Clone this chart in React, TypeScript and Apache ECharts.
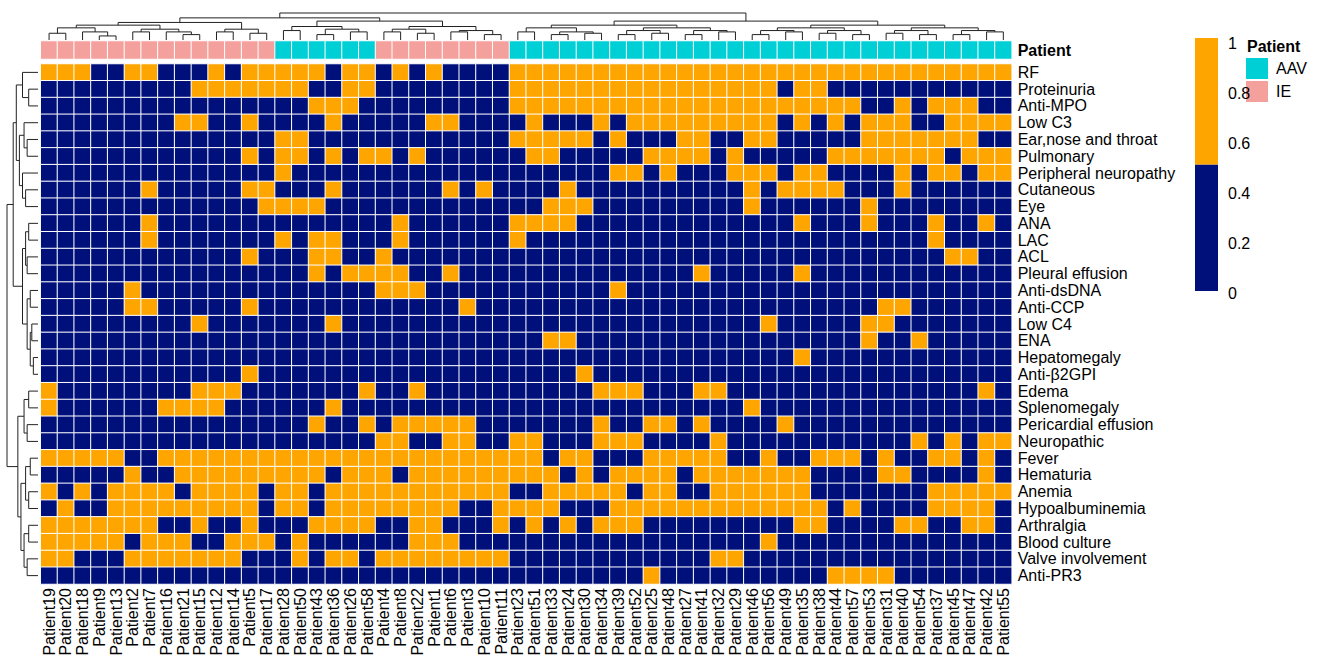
import React, { useEffect, useRef } from "react";
import * as echarts from "echarts";

const patients = [
  "Patient19","Patient20","Patient18","Patient9","Patient13","Patient2","Patient7","Patient16","Patient21","Patient15",
  "Patient12","Patient14","Patient5","Patient17","Patient28","Patient50","Patient43","Patient36","Patient26","Patient58",
  "Patient4","Patient8","Patient22","Patient1","Patient6","Patient3","Patient10","Patient11","Patient23","Patient51",
  "Patient33","Patient24","Patient30","Patient34","Patient39","Patient52","Patient25","Patient48","Patient27","Patient41",
  "Patient32","Patient29","Patient46","Patient56","Patient49","Patient35","Patient38","Patient44","Patient57","Patient53",
  "Patient31","Patient40","Patient54","Patient37","Patient45","Patient47","Patient42","Patient55",
];
const groupNames = ["AAV", "IE"];
const patientGroup = [
  "IE","IE","IE","IE","IE","IE","IE","IE","IE","IE","IE","IE","IE","IE",
  "AAV","AAV","AAV","AAV","AAV","AAV",
  "IE","IE","IE","IE","IE","IE","IE","IE",
  "AAV","AAV","AAV","AAV","AAV","AAV","AAV","AAV","AAV","AAV","AAV","AAV","AAV","AAV","AAV",
  "AAV","AAV","AAV","AAV","AAV","AAV","AAV","AAV","AAV","AAV","AAV","AAV","AAV","AAV","AAV",
];
const features = [
  "RF","Proteinuria","Anti-MPO","Low C3","Ear,nose and throat","Pulmonary","Peripheral neuropathy","Cutaneous",
  "Eye","ANA","LAC","ACL","Pleural effusion","Anti-dsDNA","Anti-CCP","Low C4","ENA","Hepatomegaly","Anti-β2GPI",
  "Edema","Splenomegaly","Pericardial effusion","Neuropathic","Fever","Hematuria","Anemia","Hypoalbuminemia",
  "Arthralgia","Blood culture","Valve involvement","Anti-PR3",
];

const rf = [1,1,1,0,0,1,1,0,0,0,1,0,1,1,1, 1,1,0,1,1,0,1,0,1,0,0,0,0,1,1, 1,1,1,1,1,1,1,1,1,1,1,1,1,1,1, 1,1,1,1,1,1,1,1,1,1,1,1,1];
const proteinuria = [0,0,0,0,0,0,0,0,0,1,1,1,1,1,1, 1,0,0,1,1,0,0,0,0,0,0,0,0,1,1, 1,1,1,1,1,1,1,1,1,1,1,1,1,1,0, 1,1,0,0,0,0,0,0,0,0,0,0,0];
const antiMPO = [0,0,0,0,0,0,0,0,0,0,0,0,0,0,0, 0,1,1,1,0,0,0,0,0,0,0,0,0,1,1, 1,1,1,1,1,1,1,1,1,1,1,1,1,1,1, 1,1,1,1,0,0,1,0,1,1,1,0,0];
const lowC3 = [0,0,0,0,0,0,0,0,1,1,0,0,1,0,0, 0,0,1,0,0,0,0,0,1,1,0,0,0,0,1, 0,0,0,1,0,1,1,1,1,1,1,1,1,1,0, 1,0,1,0,1,1,1,0,0,1,1,1,1];
const ent = [0,0,0,0,0,0,0,0,0,0,0,0,0,0,1, 1,0,0,0,0,0,0,0,0,0,0,0,0,1,1, 1,1,1,0,1,0,0,0,1,1,0,0,1,1,0, 0,0,0,0,1,1,1,1,1,1,1,0,0];
const pulmonary = [0,0,0,0,0,0,0,0,0,0,0,0,1,0,1, 1,0,1,0,1,1,0,1,0,0,0,0,0,0,1, 1,0,0,0,0,0,1,1,1,1,0,1,0,0,0, 0,0,1,1,1,1,1,1,1,0,1,1,1];
const peripheral = [0,0,0,0,0,0,0,0,0,0,0,0,0,0,1, 0,0,0,0,0,0,0,0,0,0,0,0,0,0,0, 0,0,0,0,1,1,0,1,0,0,0,1,1,1,0, 1,1,0,0,0,0,1,0,1,1,0,1,1];
const cutaneous = [0,0,0,0,0,0,1,0,0,0,0,0,1,1,0, 0,0,1,0,0,0,0,0,0,1,0,1,0,0,0, 0,1,0,0,0,0,0,0,0,0,0,0,1,0,1, 1,1,1,0,0,0,1,0,0,0,0,0,0];
const eye = [0,0,0,0,0,0,0,0,0,0,0,0,0,1,1, 1,1,0,0,0,0,0,0,0,0,0,0,0,0,0, 1,1,1,0,0,0,0,0,0,0,0,0,1,0,0, 0,0,0,0,1,0,0,0,0,0,0,0,0];
const ana = [0,0,0,0,0,0,1,0,0,0,0,0,0,0,0, 0,0,0,0,0,0,1,0,0,0,0,0,0,1,1, 1,1,0,0,0,0,0,0,0,0,0,0,0,0,0, 1,0,0,0,1,0,0,0,1,0,0,1,0];
const lac = [0,0,0,0,0,0,1,0,0,0,0,0,0,0,1, 0,1,1,0,0,0,1,0,0,0,0,0,0,1,0, 0,0,0,0,0,0,0,0,0,0,0,0,0,0,0, 0,0,0,0,0,0,0,0,1,0,0,0,0];
const acl = [0,0,0,0,0,0,0,0,0,0,0,0,1,0,0, 0,1,1,0,0,1,0,0,0,0,0,0,0,0,0, 0,0,0,0,0,0,0,0,0,0,0,0,0,0,0, 0,0,0,0,0,0,0,0,0,1,1,0,0];
const pleural = [0,0,0,0,0,0,0,0,0,0,0,0,0,0,0, 0,1,0,1,1,1,1,0,0,1,0,0,0,0,0, 0,0,0,0,0,0,0,0,0,1,0,0,0,0,0, 1,0,0,0,0,0,0,0,0,0,0,0,0];
const antiDsDNA = [0,0,0,0,0,1,0,0,0,0,0,0,0,0,0, 0,0,0,0,0,1,1,1,0,0,0,0,0,0,0, 0,0,0,0,1,0,0,0,0,0,0,0,0,0,0, 0,0,0,0,0,0,0,0,0,0,0,0,0];
const antiCCP = [0,0,0,0,0,1,1,0,0,0,0,0,1,0,0, 0,0,0,0,0,0,0,0,0,0,1,0,0,0,0, 0,0,0,0,0,0,0,0,0,0,0,0,0,0,0, 0,0,0,0,0,1,1,0,0,0,0,0,0];
const lowC4 = [0,0,0,0,0,0,0,0,0,1,0,0,0,0,0, 0,0,1,0,0,0,0,0,0,0,0,0,0,0,0, 0,0,0,0,0,0,0,0,0,0,0,0,0,1,0, 0,0,0,0,1,1,0,0,0,0,0,0,0];
const ena = [0,0,0,0,0,0,0,0,0,0,0,0,0,0,0, 0,0,0,0,0,0,0,0,0,0,0,0,0,0,0, 1,1,0,0,0,0,0,0,0,0,0,0,0,0,0, 0,0,0,0,1,0,0,1,0,0,0,0,0];
const hepatomegaly = [0,0,0,0,0,0,0,0,0,0,0,0,0,0,0, 0,0,0,0,0,0,0,0,0,0,0,0,0,0,0, 0,0,0,0,0,0,0,0,0,0,0,0,0,0,0, 1,0,0,0,0,0,0,0,0,0,0,0,0];
const antiB2GPI = [0,0,0,0,0,0,0,0,0,0,0,0,1,0,0, 0,0,0,0,0,0,0,0,0,0,0,0,0,0,0, 0,0,1,0,0,0,0,0,0,0,0,0,0,0,0, 0,0,0,0,0,0,0,0,0,0,0,0,0];
const edema = [1,0,0,0,0,0,0,0,0,1,1,1,0,0,0, 0,0,0,0,1,0,0,1,0,0,0,0,0,0,0, 0,0,0,1,1,1,0,0,0,1,1,0,0,0,0, 0,0,0,0,0,0,0,0,0,0,0,1,0];
const splenomegaly = [1,0,0,0,0,0,0,1,1,1,1,0,0,0,0, 0,0,1,0,0,0,0,0,0,0,0,0,0,0,0, 0,0,0,0,0,0,0,0,0,0,0,0,1,0,0, 0,0,0,0,0,0,0,0,0,0,0,0,0];
const pericardial = [0,0,0,0,0,0,0,0,0,0,0,0,0,0,0, 0,1,0,0,1,0,1,1,1,1,1,0,0,0,0, 0,0,0,1,0,0,1,1,0,1,0,0,0,0,1, 0,0,0,0,0,0,0,0,0,0,0,0,0];
const neuropathic = [0,0,0,0,0,0,0,0,0,0,0,0,0,0,0, 0,0,0,0,0,1,1,0,0,1,1,0,0,1,1, 0,0,0,1,1,1,0,0,0,0,1,0,0,0,0, 0,0,0,0,0,0,0,1,0,1,0,1,1];
const fever = [1,1,1,1,1,0,0,1,1,1,1,1,1,1,1, 1,1,1,1,1,1,1,1,1,1,1,1,1,1,1, 0,1,1,0,0,0,1,1,1,1,1,0,0,1,0, 0,1,1,1,0,1,0,0,1,1,0,1,0];
const hematuria = [0,0,0,0,0,1,0,0,1,1,1,1,1,1,1, 1,1,0,1,1,1,0,1,1,1,1,1,1,1,1, 1,0,1,0,1,1,1,1,0,1,1,1,1,1,1, 1,0,0,0,0,1,1,0,0,0,0,1,0];
const anemia = [1,0,1,0,1,1,1,1,0,1,1,1,1,0,1, 1,0,1,1,1,1,1,1,1,1,1,1,1,0,0, 1,1,1,1,1,0,1,1,0,0,1,1,1,1,1, 1,0,0,0,0,0,0,0,1,1,1,1,1];
const hypoalbuminemia = [0,1,0,0,1,1,1,1,1,1,1,1,1,0,1, 1,0,1,1,1,1,1,1,1,1,0,0,1,1,1, 1,0,0,0,1,1,1,1,1,1,1,1,1,1,1, 1,1,0,1,0,0,0,0,1,1,1,1,0];
const arthralgia = [1,1,1,1,1,1,1,0,0,1,0,0,1,0,0, 0,1,1,1,1,0,0,1,1,0,0,0,1,0,1, 0,1,0,1,1,1,0,0,0,0,0,0,0,0,0, 1,1,0,0,0,0,1,1,0,0,1,1,0];
const bloodCulture = [1,1,1,1,1,0,1,1,1,0,0,1,1,1,0, 1,0,0,0,0,0,0,1,1,1,0,0,0,0,0, 0,0,0,0,0,0,0,0,0,0,0,0,0,1,0, 0,0,0,0,0,0,0,0,0,0,0,0,0];
const valve = [1,1,0,0,0,1,1,1,1,1,1,1,0,0,0, 1,0,1,1,0,1,1,1,1,1,1,1,1,0,0, 0,0,0,0,0,0,0,0,0,0,1,1,0,0,0, 0,0,0,0,0,0,0,0,0,0,0,0,0];
const antiPR3 = [0,0,0,0,0,0,0,0,0,0,0,0,0,0,0, 0,0,0,0,0,0,0,0,0,0,0,0,0,0,0, 0,0,0,0,0,0,1,0,0,0,0,0,0,0,0, 0,0,1,1,1,1,0,0,0,0,0,0,0];

const matrix = [
  rf, proteinuria, antiMPO, lowC3, ent, pulmonary, peripheral, cutaneous, eye, ana, lac, acl, pleural,
  antiDsDNA, antiCCP, lowC4, ena, hepatomegaly, antiB2GPI, edema, splenomegaly, pericardial, neuropathic,
  fever, hematuria, anemia, hypoalbuminemia, arthralgia, bloodCulture, valve, antiPR3,
];

const legendTicks = [0, 0.2, 0.4, 0.6, 0.8, 1];

type Tree = number | [Tree, Tree, number];

// column dendrogram (leaf = column position), heights relative to the root
const colTree: Tree = [
  [
    [
      [[[0, 1, 0.25], [2, [3, 4, 0.15], 0.3], 0.45], [[5, 6, 0.3], [7, [8, 9, 0.2], 0.3], 0.4], 0.55],
      [[10, 11, 0.3], [12, 13, 0.25], 0.4],
      0.65,
    ],
    [
      [[14, 15, 0.35], [[16, 17, 0.2], [18, 19, 0.3], 0.4], 0.5],
      [[[20, 21, 0.3], [22, 23, 0.25], 0.4], [[24, 25, 0.3], [26, 27, 0.2], 0.35], 0.5],
      0.7,
    ],
    0.82,
  ],
  [
    [
      [[28, 29, 0.3], [[30, 31, 0.2], [32, 33, 0.25], 0.3], 0.45],
      [[[34, 35, 0.2], [36, 37, 0.25], 0.35], [[38, 39, 0.2], [40, 41, 0.3], 0.35], 0.45],
      0.55,
    ],
    [
      [[[42, 43, 0.2], [44, 45, 0.3], 0.35], [[46, 47, 0.25], [48, 49, 0.2], 0.35], 0.45],
      [[[50, 51, 0.25], [52, 53, 0.2], 0.35], [[54, 55, 0.2], [56, 57, 0.3], 0.35], 0.45],
      0.55,
    ],
    0.7,
  ],
  1,
];

const rowTree: Tree = [
  [
    [[0, [1, 2, 0.3], 0.5], [[3, [4, 5, 0.35], 0.45], [6, [7, 8, 0.4], 0.5], 0.6], 0.7],
    [[[9, 10, 0.3], [11, 12, 0.35], 0.4], [[13, 14, 0.25], [[15, 16, 0.2], [17, 18, 0.15], 0.25], 0.35], 0.5],
    0.8,
  ],
  [
    [[19, 20, 0.3], [21, 22, 0.35], 0.45],
    [[[23, 24, 0.25], [25, 26, 0.3], 0.4], [[27, 28, 0.3], [29, 30, 0.35], 0.45], 0.55],
    0.65,
  ],
  1,
];

function segments(tree: Tree): number[][] {
  const segs: number[][] = [];
  const walk = (t: Tree): [number, number] => {
    if (typeof t === "number") return [t, 0];
    const [a, b, h] = t;
    const [pa, ha] = walk(a);
    const [pb, hb] = walk(b);
    segs.push([pa, pb, ha, hb, h]);
    return [(pa + pb) / 2, h];
  };
  walk(tree);
  return segs;
}

const NAVY = "#00107A";
const ORANGE = "#FFA500";
const AAV_COLOR = "#00CFD6";
const IE_COLOR = "#F4A09C";
const FONT = "Liberation Sans, Arial, sans-serif";

const GL = 40.7;
const GW = 971;

export default function App() {
  const ref = useRef<HTMLDivElement>(null);
  useEffect(() => {
    if (!ref.current) return;
    const chart = echarts.init(ref.current, null, { renderer: "svg" });

    const heatData: number[][] = [];
    matrix.forEach((row, r) => row.forEach((v, c) => heatData.push([c, r, v])));
    const annData = patientGroup.map((g, c) => [c, 0, groupNames.indexOf(g)]);
    const colSegs = segments(colTree);
    const rowSegs = segments(rowTree);

    const hiddenAxis = { show: false };
    const catAxisBase = {
      axisLine: { show: false },
      axisTick: { show: false },
      splitLine: { show: false },
    };

    chart.setOption({
      animation: false,
      backgroundColor: "#fff",
      textStyle: { fontFamily: FONT },
      grid: [
        { left: GL, top: 64, width: GW, height: 520 },
        { left: GL, top: 41, width: GW, height: 18 },
        { left: GL, top: 13, width: GW, height: 27 },
        { left: 7, top: 64, width: 31, height: 520 },
        { left: 1195, top: 38, width: 23, height: 253 },
        { left: 1195, top: 43, width: 23, height: 250 },
      ],
      xAxis: [
        {
          type: "category", data: patients, gridIndex: 0, ...catAxisBase,
          axisLabel: { rotate: 90, fontSize: 16, color: "#000", margin: 4, interval: 0 },
        },
        { type: "category", data: patients, gridIndex: 1, ...catAxisBase, axisLabel: { show: false } },
        { type: "value", gridIndex: 2, min: -0.5, max: patients.length - 0.5, ...hiddenAxis },
        { type: "value", gridIndex: 3, min: 0, max: 1, inverse: true, ...hiddenAxis },
        { type: "category", data: ["scale"], gridIndex: 4, ...hiddenAxis },
        { type: "category", data: ["scale"], gridIndex: 5, ...hiddenAxis },
      ],
      yAxis: [
        {
          type: "category", data: features, gridIndex: 0, inverse: true, position: "right", ...catAxisBase,
          axisLabel: { fontSize: 16, color: "#000", margin: 6, interval: 0 },
        },
        {
          type: "category", data: ["Patient"], gridIndex: 1, position: "right", ...catAxisBase,
          axisLabel: { fontSize: 16, color: "#000", margin: 6, fontWeight: "bold" },
        },
        { type: "value", gridIndex: 2, min: 0, max: 1, ...hiddenAxis },
        { type: "value", gridIndex: 3, min: -0.5, max: features.length - 0.5, inverse: true, ...hiddenAxis },
        { type: "value", gridIndex: 4, min: 0, max: 1, ...hiddenAxis },
        {
          type: "value", gridIndex: 5, min: 0, max: 1, interval: 0.2, position: "right",
          axisLine: { show: false }, axisTick: { show: false }, splitLine: { show: false },
          axisLabel: {
            fontSize: 16, color: "#000", margin: 10,
            formatter: (v: number) => (legendTicks.includes(Math.round(v * 10) / 10) ? String(Math.round(v * 10) / 10) : ""),
          },
        },
      ],
      visualMap: [
        {
          type: "piecewise", show: false, seriesIndex: 0, dimension: 2,
          pieces: [{ lt: 0.5, color: NAVY }, { gte: 0.5, color: ORANGE }],
        },
        {
          type: "piecewise", show: false, seriesIndex: 1, dimension: 2,
          pieces: [{ value: 0, color: AAV_COLOR }, { value: 1, color: IE_COLOR }],
        },
      ],
      series: [
        {
          type: "heatmap", xAxisIndex: 0, yAxisIndex: 0, data: heatData,
          itemStyle: { borderColor: "#ffffff", borderWidth: 1 },
          emphasis: { disabled: true },
        },
        {
          type: "heatmap", xAxisIndex: 1, yAxisIndex: 1, data: annData,
          itemStyle: { borderColor: "#ffffff", borderWidth: 1 },
          emphasis: { disabled: true },
        },
        {
          type: "custom", xAxisIndex: 2, yAxisIndex: 2, data: colSegs, clip: false,
          encode: { x: [0, 1], y: [2, 3, 4] },
          renderItem: (_p: any, api: any) => {
            const pL = api.value(0), pR = api.value(1), hL = api.value(2), hR = api.value(3), h = api.value(4);
            return {
              type: "polyline",
              shape: { points: [api.coord([pL, hL]), api.coord([pL, h]), api.coord([pR, h]), api.coord([pR, hR])] },
              style: { stroke: "#222", lineWidth: 1, fill: null },
            };
          },
        },
        {
          type: "custom", xAxisIndex: 3, yAxisIndex: 3, data: rowSegs, clip: false,
          encode: { x: [2, 3, 4], y: [0, 1] },
          renderItem: (_p: any, api: any) => {
            const pL = api.value(0), pR = api.value(1), hL = api.value(2), hR = api.value(3), h = api.value(4);
            return {
              type: "polyline",
              shape: { points: [api.coord([hL, pL]), api.coord([h, pL]), api.coord([h, pR]), api.coord([hR, pR])] },
              style: { stroke: "#222", lineWidth: 1, fill: null },
            };
          },
        },
        {
          type: "bar", xAxisIndex: 4, yAxisIndex: 4, stack: "scale", data: [0.5], barWidth: "100%",
          itemStyle: { color: NAVY }, emphasis: { disabled: true },
        },
        {
          type: "bar", xAxisIndex: 4, yAxisIndex: 4, stack: "scale", data: [0.5], barWidth: "100%",
          itemStyle: { color: ORANGE }, emphasis: { disabled: true },
        },
      ],
      graphic: [
        {
          type: "text", left: 1247, top: 38,
          style: { text: "Patient", font: `bold 16px ${FONT}`, fill: "#000" },
        },
        { type: "rect", left: 1245, top: 57, shape: { width: 23, height: 22 }, style: { fill: AAV_COLOR, stroke: "#fff" } },
        { type: "rect", left: 1245, top: 80, shape: { width: 23, height: 22 }, style: { fill: IE_COLOR, stroke: "#fff" } },
        {
          type: "text", left: 1276, top: 60,
          style: { text: groupNames[0], font: `16px ${FONT}`, fill: "#000" },
        },
        {
          type: "text", left: 1276, top: 83,
          style: { text: groupNames[1], font: `16px ${FONT}`, fill: "#000" },
        },
      ],
    });
    return () => chart.dispose();
  }, []);
  return (
    <div
      ref={ref}
      style={{ position: "fixed", left: 0, top: 0, width: 1322, height: 665, background: "#fff" }}
    />
  );
}
